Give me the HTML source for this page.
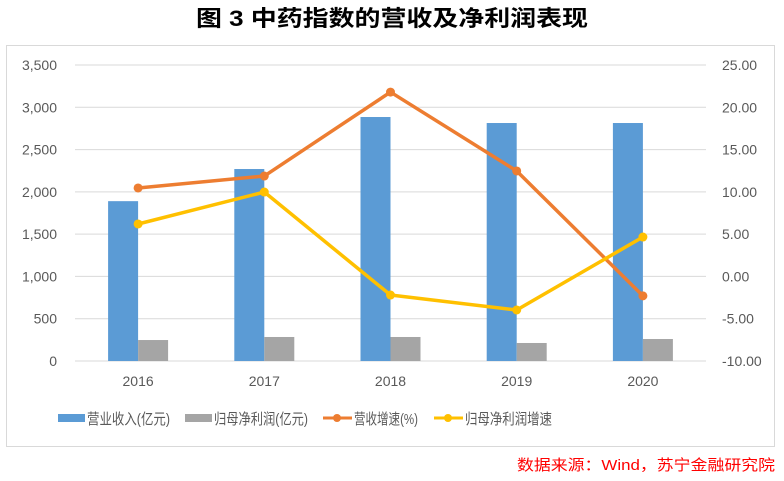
<!DOCTYPE html>
<html><head><meta charset="utf-8"><style>
body{margin:0;background:#fff;width:784px;height:476px;overflow:hidden;font-family:"Liberation Sans","Noto Sans CJK SC",sans-serif}
</style></head><body>
<svg width="784" height="476" xmlns="http://www.w3.org/2000/svg" id="chart">
<text x="196" y="26" textLength="392" lengthAdjust="spacingAndGlyphs" font-size="22" font-weight="bold" fill="#000" font-family="Liberation Sans,Noto Sans CJK SC,sans-serif">图 3  中药指数的营收及净利润表现</text>
<rect x="6.5" y="45.5" width="768" height="401" fill="#fff" stroke="#d9d9d9"/>
<g id="grid"></g><g id="bars"></g><g id="lines"></g><g id="axes"></g>
<g font-size="15" fill="#595959" font-family="Liberation Sans,Noto Sans CJK SC,sans-serif">
<rect x="58" y="414" width="27" height="8" fill="#5b9bd5"/>
<text x="87" y="424" textLength="83" lengthAdjust="spacingAndGlyphs">营业收入(亿元)</text>
<rect x="185" y="414" width="27" height="8" fill="#a5a5a5"/>
<text x="214" y="424" textLength="94" lengthAdjust="spacingAndGlyphs">归母净利润(亿元)</text>
<line x1="323" y1="418" x2="352" y2="418" stroke="#ed7d31" stroke-width="3"/><circle cx="337" cy="418" r="4" fill="#ed7d31"/>
<text x="354" y="424" textLength="64" lengthAdjust="spacingAndGlyphs">营收增速(%)</text>
<line x1="434" y1="418" x2="463" y2="418" stroke="#ffc000" stroke-width="3"/><circle cx="448" cy="418" r="4" fill="#ffc000"/>
<text x="465" y="424" textLength="87" lengthAdjust="spacingAndGlyphs">归母净利润增速</text>
</g>
<text x="517" y="470" textLength="258" lengthAdjust="spacingAndGlyphs" font-size="15" fill="#ff0000" font-family="Liberation Sans,Noto Sans CJK SC,sans-serif">数据来源：Wind，苏宁金融研究院</text>
</svg>
<script>
const categories=["2016","2017","2018","2019","2020"];
const revenue=[1890,2270,2885,2814,2814];
const profit=[248,284,284,213,260];
const revGrowth=[10.46,11.87,21.8,12.47,-2.3];
const profitGrowth=[6.2,9.98,-2.2,-3.97,4.66];
const leftTicks=[0,500,1000,1500,2000,2500,3000,3500];
const rightTicks=[-10,-5,0,5,10,15,20,25];
const NS="http://www.w3.org/2000/svg";
const top_=65,bot=361,x0=75,x1=706;
const yL=v=>bot-(v/3500)*(bot-top_);
const yR=v=>bot-((v+10)/35)*(bot-top_);
const xC=i=>x0+(i+0.5)*(x1-x0)/categories.length;
function mk(tag,attrs,parent){const e=document.createElementNS(NS,tag);for(const k in attrs)e.setAttribute(k,attrs[k]);document.getElementById(parent).appendChild(e);return e;}
leftTicks.forEach((t,i)=>{
 const g=mk('line',{x1:x0,x2:x1,y1:yL(t),y2:yL(t),stroke:'#d9d9d9'},'grid');
 
 
 const tx=mk('text',{x:57,y:yL(t)+5,'text-anchor':'end','font-size':14,fill:'#595959'},'axes');
 tx.textContent=t.toLocaleString('en-US');
 
 
});
rightTicks.forEach(t=>{
 const tx=mk('text',{x:722,y:yR(t)+5,'font-size':14,fill:'#595959'},'axes');
 tx.textContent=t.toFixed(2);
 
 
});
categories.forEach((c,i)=>{
 const tx=mk('text',{x:xC(i),y:386,'text-anchor':'middle','font-size':14,fill:'#595959'},'axes');
 tx.textContent=c;
 
 
 const b=mk('rect',{x:xC(i)-30,y:yL(revenue[i]),width:30,height:bot-yL(revenue[i]),fill:'#5b9bd5'},'bars');
 
 
 const p=mk('rect',{x:xC(i),y:yL(profit[i]),width:30,height:bot-yL(profit[i]),fill:'#a5a5a5'},'bars');
 
 
});
function line(data,color,name){
 const l=mk('polyline',{points:data.map((v,i)=>xC(i)+','+yR(v)).join(' '),fill:'none',stroke:color,'stroke-width':3.5,'stroke-linejoin':'round'},'lines');
 
 
 data.forEach((v,i)=>{
  const c=mk('circle',{cx:xC(i),cy:yR(v),r:4.5,fill:color},'lines');
  
  
 });
}
line(revGrowth,'#ed7d31','revenue-growth');
line(profitGrowth,'#ffc000','profit-growth');
</script>
</body></html>
